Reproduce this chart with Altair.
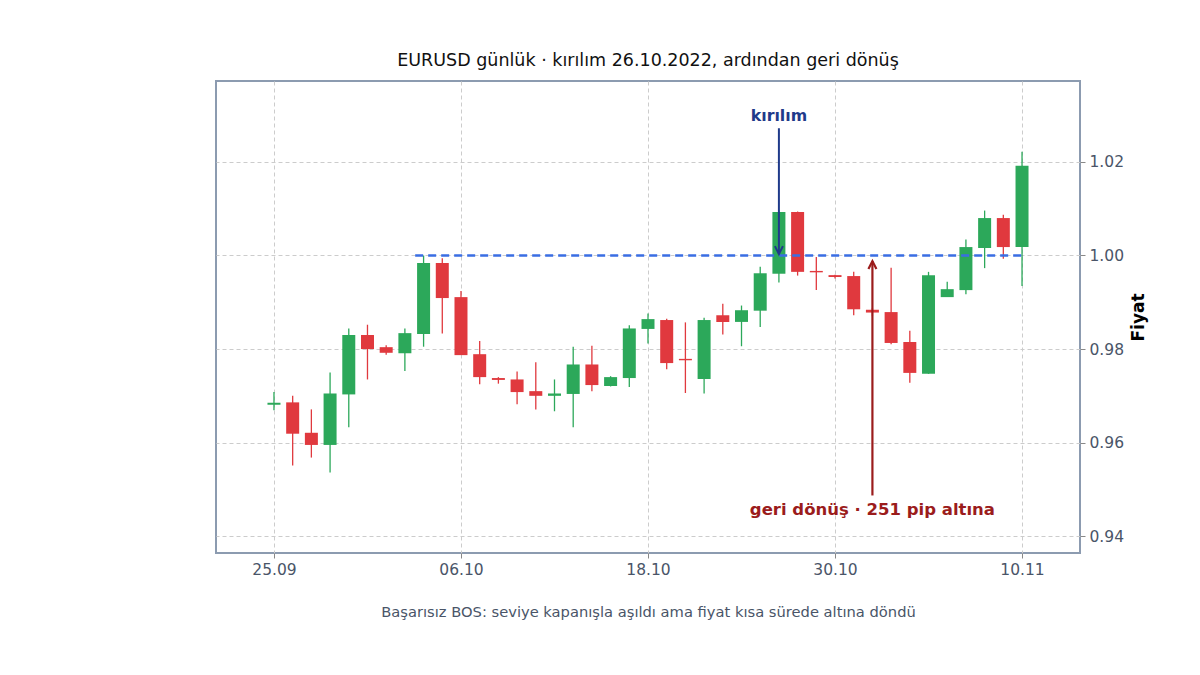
import altair as alt
import pandas as pd

# --- data ---
idx = list(range(41))
open_ = [0.9681, 0.9686, 0.9621, 0.9595, 0.9703, 0.9830, 0.9804, 0.9791, 0.9832, 0.9984,
         0.9911, 0.9789, 0.9738, 0.9735, 0.9710, 0.9700, 0.9704, 0.9767, 0.9721, 0.9738,
         0.9843, 0.9862, 0.9779, 0.9736, 0.9872, 0.9858, 0.9882, 0.9961, 1.0093, 0.9967,
         0.9958, 0.9956, 0.9884, 0.9879, 0.9815, 0.9747, 0.9911, 0.9926, 1.0016, 1.0080,
         1.0018]
high = [0.9708, 0.9700, 0.9671, 0.9750, 0.9844, 0.9852, 0.9808, 0.9844, 1.0000, 0.9994,
        0.9924, 0.9817, 0.9740, 0.9752, 0.9772, 0.9735, 0.9805, 0.9807, 0.9742, 0.9851,
        0.9876, 0.9865, 0.9857, 0.9867, 0.9897, 0.9893, 0.9976, 1.0094, 1.0094, 0.9997,
        0.9959, 0.9965, 0.9888, 0.9974, 0.9839, 0.9965, 0.9944, 1.0034, 1.0096, 1.0087,
        1.0222]
low = [0.9669, 0.9551, 0.9568, 0.9536, 0.9633, 0.9735, 0.9788, 0.9753, 0.9805, 0.9833,
       0.9787, 0.9725, 0.9726, 0.9682, 0.9671, 0.9667, 0.9633, 0.9710, 0.9720, 0.9719,
       0.9812, 0.9757, 0.9706, 0.9705, 0.9831, 0.9806, 0.9847, 0.9942, 0.9957, 0.9926,
       0.9951, 0.9872, 0.9870, 0.9810, 0.9728, 0.9747, 0.9911, 0.9917, 0.9973, 0.9993,
       0.9935]
close = [0.9685, 0.9619, 0.9595, 0.9705, 0.9830, 0.9800, 0.9792, 0.9834, 0.9984, 0.9909,
         0.9787, 0.9740, 0.9734, 0.9708, 0.9700, 0.9705, 0.9767, 0.9723, 0.9740, 0.9844,
         0.9864, 0.9770, 0.9776, 0.9862, 0.9858, 0.9883, 0.9962, 1.0093, 0.9965, 0.9964,
         0.9954, 0.9885, 0.9878, 0.9813, 0.9749, 0.9958, 0.9928, 1.0018, 1.0080, 1.0018,
         1.0192]

tick_pos = [0, 10, 20, 30, 40]
tick_labels = ["25.09", "06.10", "18.10", "30.10", "10.11"]
y_ticks = [0.94, 0.96, 0.98, 1.00, 1.02]

level = 1.00
level_start = 7.55
level_end = 40
break_idx = 27
fail_idx = 32

TITLE = "EURUSD günlük · kırılım 26.10.2022, ardından geri dönüş"
CAPTION = "Başarısız BOS: seviye kapanışla aşıldı ama fiyat kısa sürede altına döndü"
Y_TITLE = "Fiyat"
BREAK_TEXT = "kırılım"
FAIL_TEXT = "geri dönüş · 251 pip altına"

GREEN = "#2ca85a"
RED = "#e0393e"
NAVY = "#1f3a8a"
DARKRED = "#9b1c1c"
LEVEL_BLUE = "#3a6ee3"
FONT = "DejaVu Sans"

df = pd.DataFrame({"i": idx, "open": open_, "high": high, "low": low, "close": close})
df["dir"] = ["up" if c >= o else "down" for o, c in zip(open_, close)]

label_expr = "".join(f"datum.value == {p} ? '{l}' : " for p, l in zip(tick_pos, tick_labels)) + "''"

xscale = alt.Scale(domain=[-3.1, 43.1], nice=False, zero=False, padding=0)
yscale = alt.Scale(domain=[0.9364, 1.0373], nice=False, zero=False, padding=0)
color = alt.Color("dir:N", scale=alt.Scale(domain=["up", "down"], range=[GREEN, RED]), legend=None)

x_axis = alt.Axis(values=tick_pos, labelExpr=label_expr, title=CAPTION, grid=True,
                  gridDash=[4, 3], gridColor="#cccccc", domain=False, tickColor="#888888",
                  tickSize=5, labelFontSize=15.5, labelColor="#4a5568", labelPadding=4,
                  titleFontSize=14.7, titleFontWeight="normal", titleColor="#4a5568",
                  titlePadding=27, labelFont=FONT, titleFont=FONT)
y_axis = alt.Axis(orient="right", values=y_ticks, format=".2f", title=Y_TITLE, grid=True,
                  gridDash=[4, 3], gridColor="#cccccc", domain=False, tickColor="#888888",
                  tickSize=5, labelFontSize=15.5, labelColor="#4a5568", labelPadding=4,
                  titleFontSize=17, titleFontWeight="bold", titleColor="#000000",
                  titleAngle=270, titlePadding=24, labelFont=FONT, titleFont=FONT)

base = alt.Chart(df)

wicks = base.mark_rule(strokeWidth=1.3).encode(
    x=alt.X("i:Q", scale=xscale, axis=x_axis),
    y=alt.Y("low:Q", scale=yscale, axis=y_axis),
    y2="high:Q",
    color=color,
)
bodies = base.mark_bar(size=13).encode(
    x=alt.X("i:Q", scale=xscale),
    y=alt.Y("open:Q", scale=yscale),
    y2="close:Q",
    color=color,
)

level_df = pd.DataFrame({"x": [level_start], "x2": [level_end], "y": [level]})
level_line = alt.Chart(level_df).mark_rule(color=LEVEL_BLUE, strokeWidth=2.5, strokeDash=[8, 5]).encode(
    x=alt.X("x:Q", scale=xscale), x2="x2:Q", y=alt.Y("y:Q", scale=yscale)
)

# break annotation
brk_df = pd.DataFrame({"x": [break_idx], "y": [1.0272], "y2": [level + 0.0003], "ty": [1.0299],
                       "t": [BREAK_TEXT]})
brk_shaft = alt.Chart(brk_df).mark_rule(color=NAVY, strokeWidth=2).encode(
    x=alt.X("x:Q", scale=xscale), y=alt.Y("y:Q", scale=yscale), y2="y2:Q"
)
brk_head = alt.Chart(brk_df).mark_point(shape="M-0.5,-1L0,0L0.5,-1", size=256, filled=False,
                                        color=NAVY, strokeWidth=2, opacity=1).encode(
    x=alt.X("x:Q", scale=xscale), y=alt.Y("y2:Q", scale=yscale)
)
brk_text = alt.Chart(brk_df).mark_text(color=NAVY, fontSize=15.8, fontWeight="bold", font=FONT,
                                       baseline="middle", align="center").encode(
    x=alt.X("x:Q", scale=xscale), y=alt.Y("ty:Q", scale=yscale), text="t:N"
)

# failure annotation
fail_df = pd.DataFrame({"x": [fail_idx], "y": [0.9487], "y2": [level - 0.0012], "ty": [0.9455],
                        "t": [FAIL_TEXT]})
fail_shaft = alt.Chart(fail_df).mark_rule(color=DARKRED, strokeWidth=2.2).encode(
    x=alt.X("x:Q", scale=xscale), y=alt.Y("y:Q", scale=yscale), y2="y2:Q"
)
fail_head = alt.Chart(fail_df).mark_point(shape="M-0.5,1L0,0L0.5,1", size=256, filled=False,
                                          color=DARKRED, strokeWidth=2.2, opacity=1).encode(
    x=alt.X("x:Q", scale=xscale), y=alt.Y("y2:Q", scale=yscale)
)
fail_text = alt.Chart(fail_df).mark_text(color=DARKRED, fontSize=16.5, fontWeight="bold", font=FONT,
                                         baseline="middle", align="center").encode(
    x=alt.X("x:Q", scale=xscale), y=alt.Y("ty:Q", scale=yscale), text="t:N"
)

chart = alt.layer(
    wicks, bodies, level_line, brk_shaft, brk_head, brk_text, fail_shaft, fail_head, fail_text
).properties(
    width=864,
    height=472,
    padding={"left": 208, "top": 73, "right": 112, "bottom": 114},
    autosize=alt.AutoSizeParams(type="none"),
    title=alt.TitleParams(TITLE, fontSize=17.5, fontWeight="normal", color="#111111",
                          font=FONT, anchor="middle", offset=12),
).configure(
    background="white",
    view=alt.ViewConfig(stroke="#8c9bb0", strokeWidth=2),
)

chart.save("out.html", embed_options={"renderer": "svg", "actions": False})
